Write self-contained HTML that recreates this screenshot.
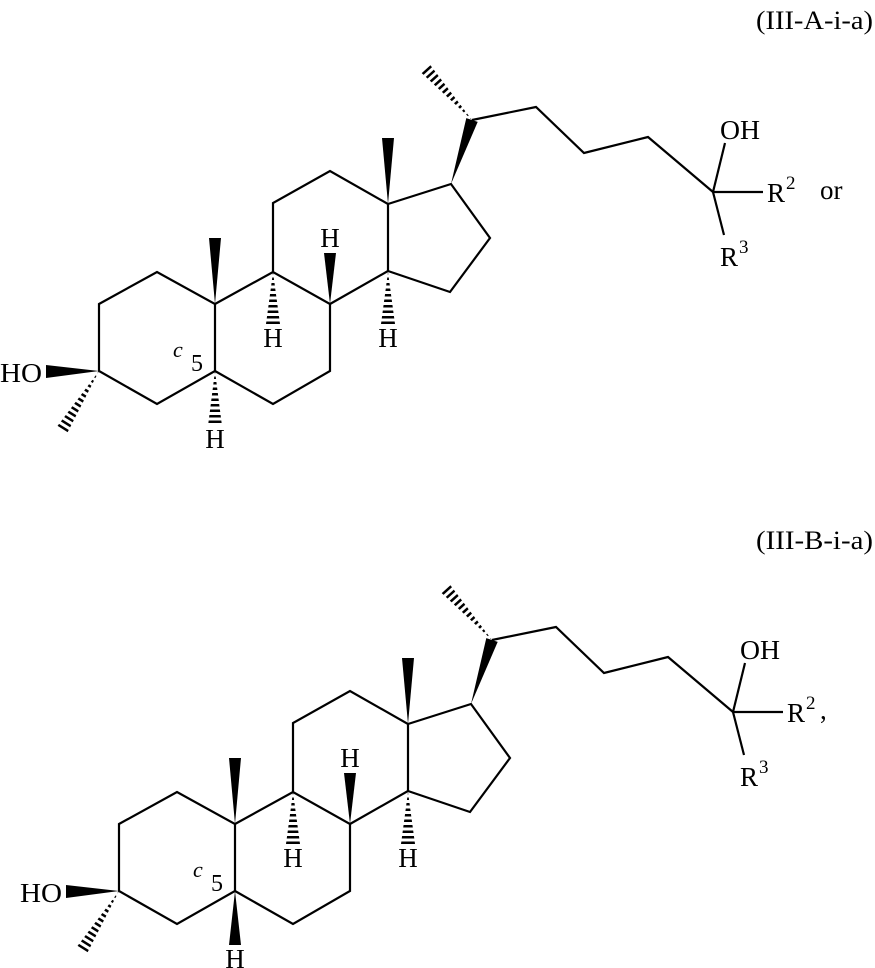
<!DOCTYPE html>
<html><head><meta charset="utf-8"><style>
html,body{margin:0;padding:0;background:#fff;}
svg{display:block;}
text{font-family:"Liberation Serif",serif;fill:#000;}
</style></head><body>
<svg width="875" height="968" viewBox="0 0 875 968" xmlns="http://www.w3.org/2000/svg">
<defs>
<clipPath id="h1"><polygon points="472,120 429.5,64 420.5,72"/></clipPath>
<clipPath id="h2"><polygon points="273,272 266,324 280,324"/></clipPath>
<clipPath id="h3"><polygon points="388,272 381,324 395,324"/></clipPath>
<clipPath id="h4"><polygon points="215,371 208,426 222,426"/></clipPath>
<clipPath id="h5"><polygon points="99,371 67.1,433.2 56.9,426.8"/></clipPath>
<g id="core">
<g fill="none" stroke="#000" stroke-width="2.2" stroke-linejoin="miter">
<polygon points="99,304 157,272 215,304 215,371 157,404 99,371"/>
<polyline points="215,304 273,272 330,304 330,371 273,404 215,371"/>
<polyline points="273,272 273,203 330,171 388,204 388,271 330,304"/>
<polyline points="388,204 451,184 490,238 450,292 388,271"/>
<polyline points="472,120 536,107 584,153 648,137 713,192"/>
<line x1="713" y1="192" x2="725" y2="143"/>
<line x1="713" y1="192" x2="763" y2="192"/>
<line x1="713" y1="192" x2="724" y2="235"/>
</g>
<g fill="#000">
<polygon points="215,304 209,238 221,238"/>
<polygon points="330,304 324,253 336,253"/>
<polygon points="388,204 382,138 394,138"/>
<polygon points="451,184 477.7,121.9 466.3,118.1"/>
<polygon points="99,371 46,365 46,378"/>
</g>
<g stroke="#000" stroke-dasharray="2.5 3">
<line x1="472" y1="120" x2="425" y2="68" stroke-width="14" clip-path="url(#h1)"/>
<line x1="273" y1="272" x2="273" y2="324" stroke-width="14" clip-path="url(#h2)"/>
<line x1="388" y1="272" x2="388" y2="324" stroke-width="14" clip-path="url(#h3)"/>
<line x1="99" y1="371" x2="62" y2="430" stroke-width="14" clip-path="url(#h5)"/>
</g>
<g style="font-size:27px">
<text x="273" y="347" text-anchor="middle">H</text>
<text x="330" y="247" text-anchor="middle">H</text>
<text x="388" y="347" text-anchor="middle">H</text>
<text x="0" y="382" textLength="42" lengthAdjust="spacingAndGlyphs">HO</text>
<text x="720" y="139" textLength="40" lengthAdjust="spacingAndGlyphs">OH</text>
<text x="767" y="202">R</text>
<text x="786" y="189" style="font-size:19px">2</text>
<text x="720" y="266">R</text>
<text x="739" y="253" style="font-size:19px">3</text>
</g>
<text x="173" y="357" style="font-size:22px;font-style:italic">c</text>
<text x="191" y="371" style="font-size:24px">5</text>
</g>
</defs>

<text x="873" y="29" style="font-size:26px" text-anchor="end" textLength="117" lengthAdjust="spacingAndGlyphs">(III-A-i-a)</text>
<use href="#core"/>
<line x1="215" y1="371" x2="215" y2="426" stroke="#000" stroke-width="14" stroke-dasharray="2.5 3" clip-path="url(#h4)"/>
<text x="215" y="448" style="font-size:27px" text-anchor="middle">H</text>
<text x="820" y="199" style="font-size:27px">or</text>

<text x="873" y="549" style="font-size:26px" text-anchor="end" textLength="117" lengthAdjust="spacingAndGlyphs">(III-B-i-a)</text>
<g transform="translate(20,520)">
<use href="#core"/>
<polygon points="215,371 209,425 221,425" fill="#000"/>
<text x="215" y="448" style="font-size:27px" text-anchor="middle">H</text>
<text x="800" y="199" style="font-size:27px">,</text>
</g>
</svg>
</body></html>
